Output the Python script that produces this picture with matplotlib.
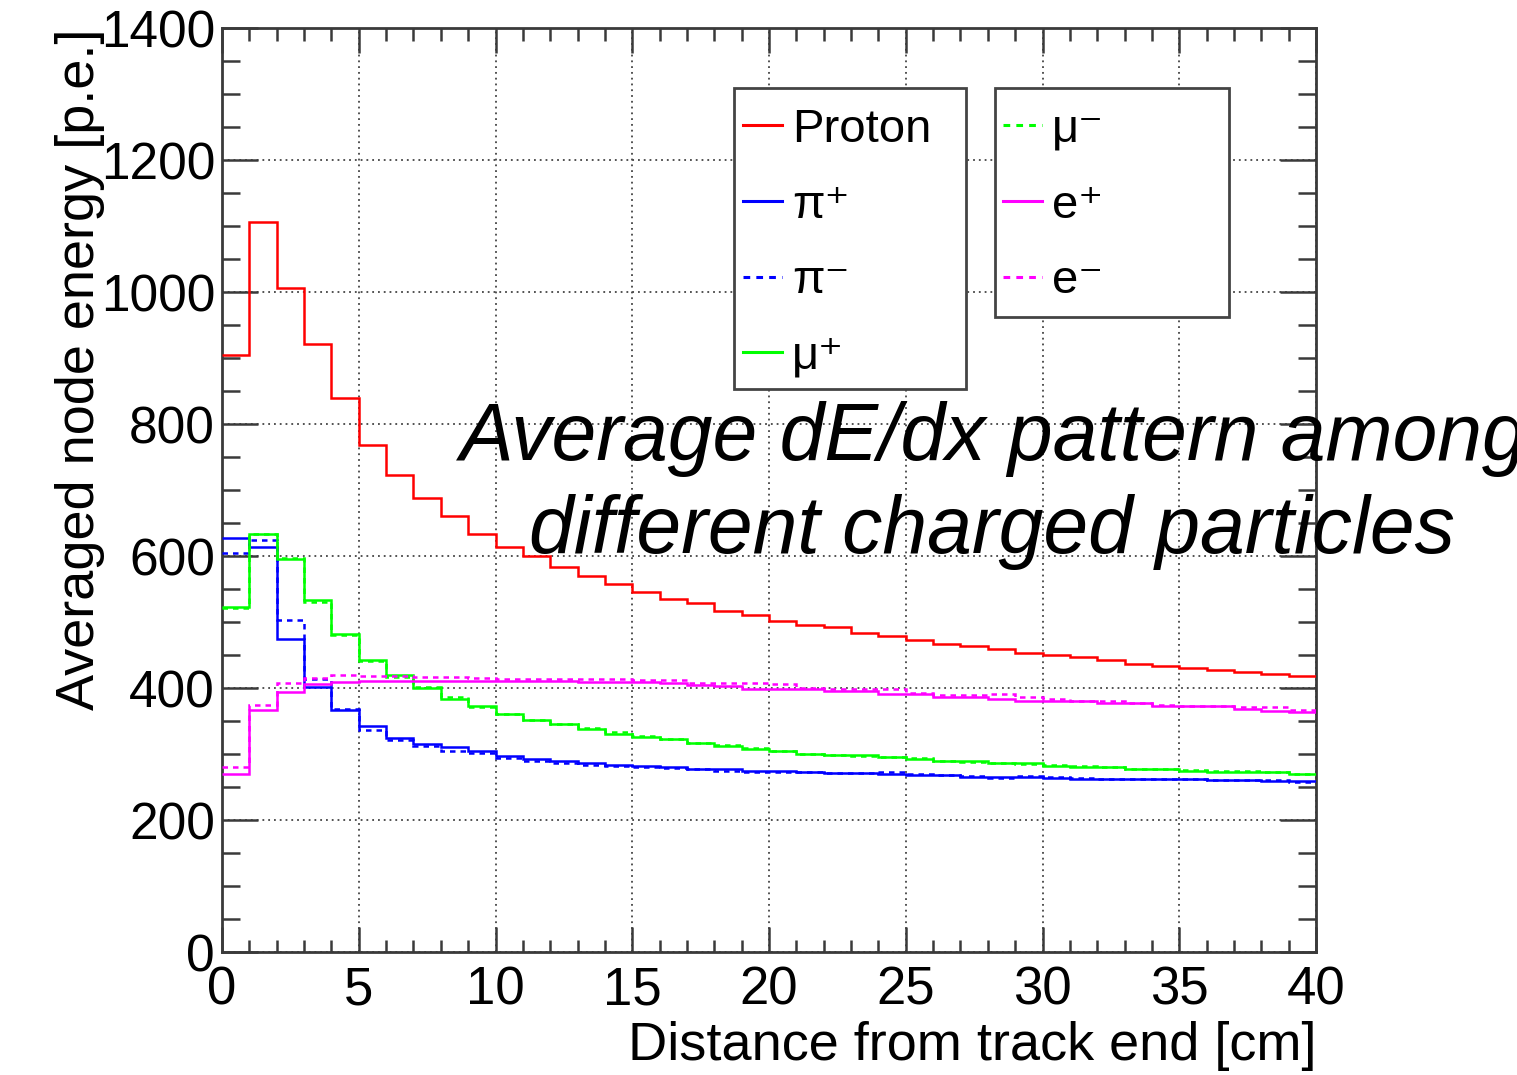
import numpy as np
import matplotlib
matplotlib.use("Agg")
import matplotlib.pyplot as plt
from matplotlib.ticker import MultipleLocator
from matplotlib.patches import Rectangle

plt.rcParams['font.family'] = ['Liberation Sans', 'DejaVu Sans']

# 1 cm bins from the track end
bin_edges = np.arange(0, 41)

proton = [905, 1106, 1006, 921, 839, 768, 722, 688, 660, 633,
          614, 600, 583, 570, 558, 545, 535, 529, 516, 510,
          502, 496, 492, 484, 479, 472, 466, 463, 459, 453,
          450, 447, 443, 437, 434, 431, 427, 425, 421, 418]
pi_plus = [627, 614, 475, 401, 366, 343, 325, 315, 310, 305,
           297, 292, 290, 286, 284, 282, 281, 278, 277, 275,
           275, 272, 271, 271, 270, 268, 268, 265, 265, 265,
           264, 262, 262, 262, 262, 262, 260, 260, 259, 259]
pi_minus = [605, 625, 503, 413, 368, 336, 321, 312, 305, 301,
            294, 290, 287, 284, 282, 281, 279, 277, 275, 273,
            273, 272, 271, 271, 272, 269, 268, 266, 264, 266,
            265, 264, 262, 262, 262, 262, 261, 260, 260, 258]
mu_plus = [523, 633, 595, 533, 482, 443, 419, 400, 384, 372,
           361, 352, 346, 338, 331, 326, 322, 316, 312, 308,
           304, 300, 299, 298, 295, 292, 289, 289, 286, 286,
           282, 280, 280, 277, 277, 275, 272, 272, 272, 270]
mu_minus = [521, 634, 597, 531, 480, 441, 417, 401, 386, 371,
            360, 351, 345, 340, 333, 328, 323, 317, 313, 309,
            304, 300, 298, 297, 296, 294, 290, 288, 287, 285,
            283, 282, 280, 278, 277, 276, 274, 274, 273, 270]
e_plus = [270, 366, 394, 406, 409, 411, 411, 410, 410, 410,
          411, 410, 410, 409, 409, 409, 408, 404, 403, 399,
          399, 398, 395, 395, 391, 391, 387, 387, 383, 381,
          381, 380, 377, 377, 373, 373, 373, 368, 365, 364]
e_minus = [280, 374, 407, 415, 419, 418, 418, 417, 416, 415,
           414, 414, 413, 413, 413, 412, 412, 407, 407, 407,
           406, 400, 398, 398, 398, 393, 389, 389, 391, 387,
           383, 381, 381, 378, 374, 373, 372, 371, 371, 366]

W, H, DPI = 1517, 1075, 100
fig = plt.figure(figsize=(W / DPI, H / DPI), dpi=DPI)
ax = fig.add_axes([222 / W, 1 - 952 / H, (1316 - 222) / W, (952 - 28) / H])

dash = (0, (2.2, 2.0))
lw = 1.8
series = [
    (proton, '#ff0000', '-', 'Proton'),
    (pi_plus, '#0000ff', '-', 'π\u207a'),
    (pi_minus, '#0000ff', dash, 'π\u207b'),
    (mu_plus, '#00ff00', '-', 'μ\u207a'),
    (mu_minus, '#00ff00', dash, 'μ\u207b'),
    (e_plus, '#ff00ff', '-', 'e\u207a'),
    (e_minus, '#ff00ff', dash, 'e\u207b'),
]
handles = []
for vals, col, ls, lab in series:
    h = ax.stairs(vals, bin_edges, baseline=None, color=col, linestyle=ls,
                  linewidth=lw, label=lab, zorder=3)
    handles.append(h)

ax.set_xlim(0, 40)
ax.set_ylim(0, 1400)
ax.xaxis.set_major_locator(MultipleLocator(5))
ax.xaxis.set_minor_locator(MultipleLocator(1))
ax.yaxis.set_major_locator(MultipleLocator(200))
ax.yaxis.set_minor_locator(MultipleLocator(50))

ax.grid(True, which='major', color='#444444', linestyle=(0, (1.0, 2.2)),
        linewidth=1.3, zorder=1)

axis_col = '#3a3a3a'
for sp in ax.spines.values():
    sp.set_color(axis_col)
    sp.set_linewidth(2.0)

ax.tick_params(axis='both', which='both', direction='in', top=True, right=True,
               color=axis_col, width=1.8)
ax.tick_params(axis='x', which='major', length=18, pad=10, labelsize=38)
ax.tick_params(axis='x', which='minor', length=9)
ax.tick_params(axis='y', which='major', length=26, pad=5, labelsize=37)
ax.tick_params(axis='y', which='minor', length=13)

ax.set_xlabel('Distance from track end [cm]', fontsize=39, loc='right')
ax.xaxis.set_label_coords(1.0, -0.075)
ax.set_ylabel('Averaged node energy [p.e.]', fontsize=39, loc='top')
ax.yaxis.set_label_coords(-0.107, 1.0)

# legend boxes
box_specs = [(734, 88, 966, 389), (995, 88, 1229, 317)]
for x0, y0, x1, y1 in box_specs:
    ax.add_patch(Rectangle((x0 / W, 1 - y1 / H), (x1 - x0) / W, (y1 - y0) / H,
                           transform=fig.transFigure, facecolor='white',
                           edgecolor='#444444', linewidth=2.0, clip_on=False,
                           zorder=4))

leg_kw = dict(fontsize=34, frameon=False, handlelength=0.83, handletextpad=0.21,
              borderpad=0.0, labelspacing=0.67, borderaxespad=0.0,
              loc='upper left', bbox_transform=fig.transFigure)
leg1 = ax.legend(handles[:4], [s[3] for s in series[:4]],
                 bbox_to_anchor=(743 / W, 1 - 108 / H), **leg_kw)
leg1.set_zorder(6)
ax.add_artist(leg1)
leg2 = ax.legend(handles[4:], [s[3] for s in series[4:]],
                 bbox_to_anchor=(1003 / W, 1 - 108 / H), **leg_kw)
leg2.set_zorder(6)
for lg in (leg1, leg2):
    for ln in lg.get_lines():
        ln.set_linewidth(2.2)

fig.text(460 / W, 1 - 460 / H, 'Average dE/dx pattern among', fontsize=58,
         style='italic', ha='left', va='baseline', zorder=10)
fig.text(992 / W, 1 - 553 / H, 'different charged particles', fontsize=58,
         style='italic', ha='center', va='baseline', zorder=10)

fig.savefig('out.png', dpi=DPI)
